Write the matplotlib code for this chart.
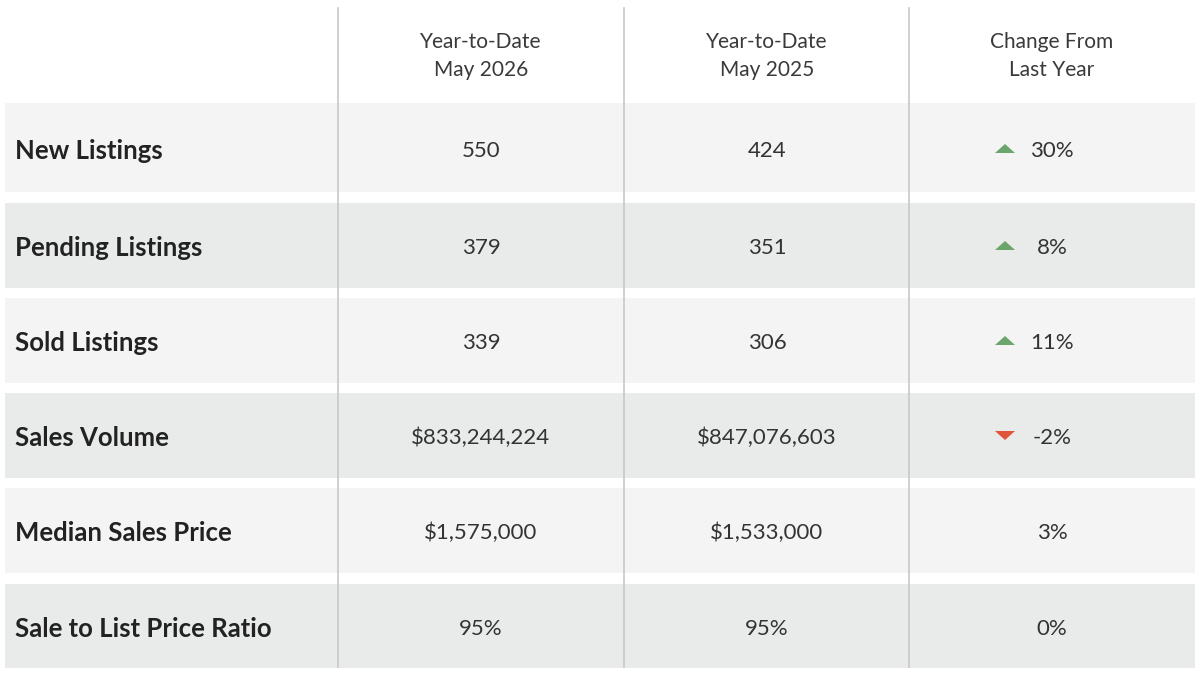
import matplotlib
matplotlib.use("Agg")
import matplotlib.pyplot as plt
from matplotlib.patches import Rectangle, Polygon

metrics = ["New Listings", "Pending Listings", "Sold Listings", "Sales Volume",
           "Median Sales Price", "Sale to List Price Ratio"]
ytd_2026 = ["550", "379", "339", "$833,244,224", "$1,575,000", "95%"]
ytd_2025 = ["424", "351", "306", "$847,076,603", "$1,533,000", "95%"]
change = ["30%", "8%", "11%", "-2%", "3%", "0%"]
direction = ["up", "up", "up", "down", "none", "none"]
headers = ["Year-to-Date\nMay 2026", "Year-to-Date\nMay 2025", "Change From\nLast Year"]

W, H = 1200, 677
fig = plt.figure(figsize=(12, 6.77), dpi=100)
ax = fig.add_axes([0, 0, 1, 1])
ax.set_xlim(0, W)
ax.set_ylim(H, 0)
ax.axis("off")

row_tops = [103, 203, 298, 393, 488, 584]
row_bots = [192, 288, 383, 478, 573, 668]
text_y = [149, 246, 341, 436, 531, 627]
colors = ["#f4f4f4", "#e9eaea"]
col_centers = [481, 767, 1052]
vlines = [338, 624, 909]

for i, (top, bot) in enumerate(zip(row_tops, row_bots)):
    ax.add_patch(Rectangle((5, top), 1190, bot - top, facecolor=colors[i % 2],
                           edgecolor="none", zorder=1))
for x in vlines:
    ax.plot([x, x], [8, 667], color="#c8c8c8", lw=1.2, zorder=2)

for c, h in zip(col_centers, headers):
    l1, l2 = h.split("\n")
    ax.text(c, 42, l1, ha="center", va="center", fontsize=15, color="#3a3a3a",
            family="Lato", zorder=3)
    ax.text(c, 70, l2, ha="center", va="center", fontsize=15, color="#3a3a3a",
            family="Lato", zorder=3)

for i in range(len(metrics)):
    yc = text_y[i]
    ax.text(15, yc, metrics[i], ha="left", va="center_baseline", fontsize=18.5,
            fontweight="bold", color="#222222", family="Lato", zorder=3)
    ax.text(col_centers[0], yc, ytd_2026[i], ha="center", va="center_baseline",
            fontsize=16, color="#333333", family="Lato", zorder=3)
    ax.text(col_centers[1], yc, ytd_2025[i], ha="center", va="center_baseline",
            fontsize=16, color="#333333", family="Lato", zorder=3)
    ax.text(col_centers[2], yc, change[i], ha="center", va="center_baseline",
            fontsize=16, color="#333333", family="Lato", zorder=3)
    ax_x = 1005
    if direction[i] == "up":
        ax.add_patch(Polygon([[ax_x - 10, yc + 4], [ax_x + 10, yc + 4], [ax_x, yc - 5]],
                             closed=True, facecolor="#6aa56b", edgecolor="none", zorder=3))
    elif direction[i] == "down":
        ax.add_patch(Polygon([[ax_x - 10, yc - 5], [ax_x + 10, yc - 5], [ax_x, yc + 4]],
                             closed=True, facecolor="#e0553a", edgecolor="none", zorder=3))

fig.savefig("out.png", dpi=100, facecolor="white")
